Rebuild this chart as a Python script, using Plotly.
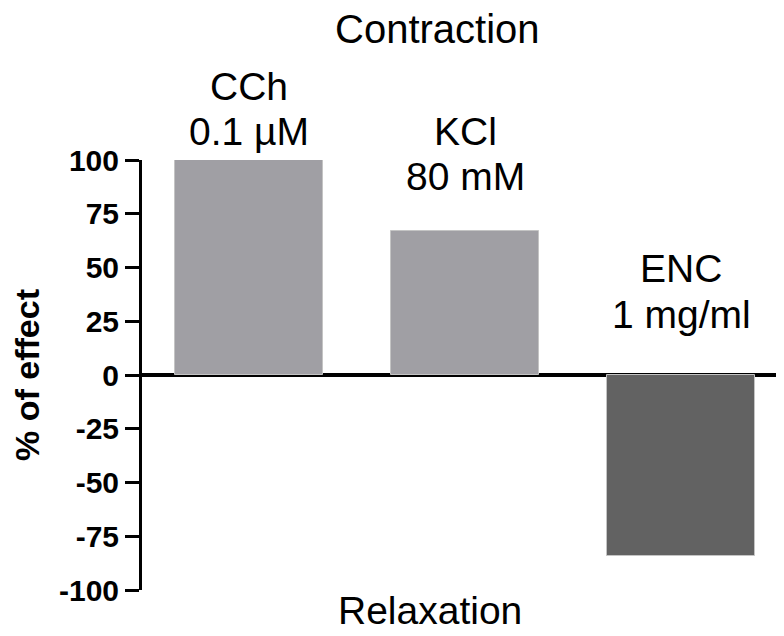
import plotly.graph_objects as go

categories = ["CCh", "KCl", "ENC"]
values = [100, 67, -84]
bar_colors = ["#A09FA4", "#A09FA4", "#626262"]
label_line1 = ["CCh", "KCl", "ENC"]
label_line2 = ["0.1 \u00b5M", "80 mM", "1 mg/ml"]
tick_vals = [-100, -75, -50, -25, 0, 25, 50, 75, 100]

FONT = "Liberation Sans, Arial, sans-serif"

fig = go.Figure()
fig.add_trace(go.Bar(
    x=list(range(len(categories))), y=values, width=0.685,
    marker=dict(color=bar_colors, line=dict(color="#c4c4c4", width=1)),
    showlegend=False, hoverinfo="skip",
))

# label positions (paper units, centre of each line)
line1_y = [1.171, 1.067, 0.748]
line2_y = [1.067, 0.962, 0.641]
anns = []
for i in range(len(categories)):
    anns.append(dict(x=i, y=line1_y[i], xref="x", yref="paper", text=label_line1[i],
                     showarrow=False, font=dict(family=FONT, size=39, color="black"),
                     xanchor="center", yanchor="middle"))
    anns.append(dict(x=i, y=line2_y[i], xref="x", yref="paper", text=label_line2[i],
                     showarrow=False, font=dict(family=FONT, size=39, color="black"),
                     xanchor="center", yanchor="middle"))
anns.append(dict(x=0.46, y=1.305, xref="paper", yref="paper", text="Contraction",
                 showarrow=False, font=dict(family=FONT, size=40, color="black"),
                 xanchor="center", yanchor="middle"))
anns.append(dict(x=0.448, y=-0.099, xref="paper", yref="paper", text="Relaxation",
                 showarrow=False, font=dict(family=FONT, size=39, color="black"),
                 xanchor="center", yanchor="bottom", borderpad=0))

fig.update_layout(
    width=776, height=628,
    margin=dict(l=134, r=0, t=152, b=46),
    paper_bgcolor="white", plot_bgcolor="white",
    bargap=0,
    annotations=anns,
    xaxis=dict(range=[-0.497, 2.475], visible=False, showgrid=False, zeroline=False),
    yaxis=dict(
        range=[-100, 100], tickvals=tick_vals, ticktext=[str(v) for v in tick_vals],
        showline=True, linecolor="black", linewidth=3,
        ticks="outside", ticklen=14, tickwidth=3, tickcolor="black",
        tickfont=dict(family=FONT, size=30, color="black", weight="bold"),
        showgrid=False, zeroline=True, zerolinecolor="black", zerolinewidth=4,
        title=dict(text="% of effect", standoff=14,
                   font=dict(family=FONT, size=34, color="black", weight="bold")),
        automargin=False,
    ),
)

fig.write_html("out.html")
